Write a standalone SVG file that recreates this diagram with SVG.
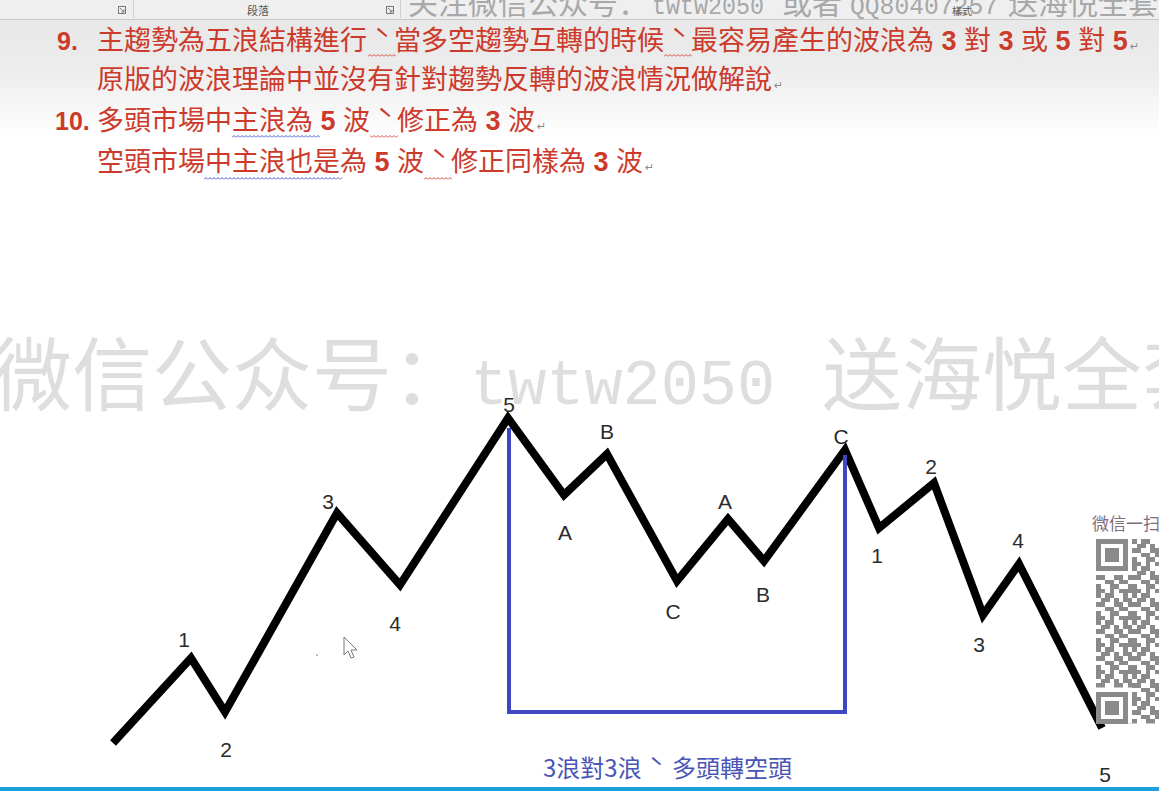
<svg xmlns="http://www.w3.org/2000/svg" width="1159" height="791" viewBox="0 0 1159 791">
<defs>
<style>
.red{font-family:"Liberation Sans","Noto Sans CJK TC",sans-serif;font-size:27px;fill:#cc3a2b}
.num{font-weight:bold}
.idx{font-family:"Liberation Sans",sans-serif;font-size:25px;font-weight:bold;fill:#cc3a2b}
.tone{font-family:"Noto Sans CJK TC",sans-serif}
.pm{font-family:"DejaVu Sans",sans-serif;font-size:11px;fill:#8a8a8a}
.lbl{font-family:"Liberation Sans",sans-serif;font-size:21px;fill:#2b2b2b;text-anchor:middle}
.wm{font-family:"Noto Sans CJK SC",sans-serif;fill:#dedede}
.wmm{font-family:"Liberation Mono",monospace;fill:#dedede}
.rib{font-family:"Noto Sans CJK TC",sans-serif;fill:#555;text-anchor:middle}
.topwm{font-family:"Noto Sans CJK SC",sans-serif;font-size:30px;fill:#a8a8a8}
.topwmm{font-family:"Liberation Mono",monospace;font-size:25px;fill:#a8a8a8}
.wave{fill:none;stroke:#000;stroke-width:8;stroke-linejoin:miter;stroke-miterlimit:4}
.bracket{fill:none;stroke:#3d48c2;stroke-width:4}
.qrc{fill:#8a8a8a}
</style>
<linearGradient id="topfade" x1="0" y1="0" x2="0" y2="1">
<stop offset="0" stop-color="#e8e8e8"/>
<stop offset="0.4" stop-color="#ececec"/>
<stop offset="1" stop-color="#ffffff"/>
</linearGradient>
<pattern id="sqR" width="4" height="3" patternUnits="userSpaceOnUse"><path d="M0 2.5L2 0.5L4 2.5" fill="none" stroke="#d8392a" stroke-width="0.9"/></pattern>
<pattern id="sqB" width="4" height="3" patternUnits="userSpaceOnUse"><path d="M0 2.5L2 0.5L4 2.5" fill="none" stroke="#3b48d0" stroke-width="0.9"/></pattern>
<pattern id="qrp" x="1096" y="539" width="36" height="27" patternUnits="userSpaceOnUse">
<path class="qrc" shape-rendering="crispEdges" d="M0 0h4.5v4.5h-4.5zM9 0h9v4.5h-9zM27 0h4.5v4.5h-4.5zM4.5 4.5h9v4.5h-9zM18 4.5h4.5v4.5h-4.5zM27 4.5h9v4.5h-9zM0 9h9v4.5h-9zM18 9h9v4.5h-9zM31.5 9h4.5v4.5h-4.5zM9 13.5h9v4.5h-9zM22.5 13.5h9v4.5h-9zM0 18h4.5v4.5h-4.5zM13.5 18h9v4.5h-9zM31.5 18h4.5v4.5h-4.5zM0 22.5h9v4.5h-9zM13.5 22.5h4.5v4.5h-4.5zM22.5 22.5h13.5v4.5h-13.5z"/>
</pattern>
</defs>

<rect x="0" y="0" width="1159" height="791" fill="#ffffff"/>
<rect x="0" y="19" width="1159" height="120" fill="url(#topfade)"/>

<!-- ribbon -->
<g id="ribbon">
<rect x="0" y="0" width="1159" height="19" fill="#efefef"/>
<line x1="0" y1="19.5" x2="1159" y2="19.5" stroke="#c9c9c9"/>
<line x1="133.5" y1="0" x2="133.5" y2="18" stroke="#d0d0d0"/>
<line x1="400.5" y1="0" x2="400.5" y2="18" stroke="#d0d0d0"/>
<g fill="none" stroke="#7a7a7a" stroke-width="1">
<rect x="118.5" y="6.5" width="7" height="7"/><path d="M120 8L124 12M124 9.5V12H121.5"/>
<rect x="386.5" y="6.5" width="7" height="7"/><path d="M388 8L392 12M392 9.5V12H389.5"/>
</g>
<text class="rib" x="258" y="15" font-size="11">段落</text>
<text class="topwm" y="14"><tspan x="408">关注微信公众号：</tspan></text>
<text class="topwmm" y="14" x="652" textLength="112" lengthAdjust="spacingAndGlyphs">twtw2050</text>
<text class="topwm" y="14" x="782">或者</text>
<text class="topwmm" y="14" x="850" textLength="148" lengthAdjust="spacingAndGlyphs">QQ80407257</text>
<text class="topwm" y="14" x="1008">送海悦全套</text>
<text class="rib" x="962" y="15" font-size="10">樣式</text>
</g>

<!-- text block -->
<g id="point9">
<text class="idx" x="57" y="50">9.</text>
<text class="red" y="50"><tspan x="97">主趨勢為五浪結構進行</tspan><tspan x="374" class="tone">ˋ</tspan><tspan x="394">當多空趨勢互轉的時候</tspan><tspan x="671" class="tone">ˋ</tspan><tspan x="691">最容易產生的波浪為 <tspan class="num">3</tspan> 對 <tspan class="num">3</tspan> 或 <tspan class="num">5</tspan> 對 <tspan class="num">5</tspan></tspan></text>
<text class="pm" x="1130" y="50">↵</text>
<rect x="368" y="54" width="28" height="3" fill="url(#sqR)"/>
<rect x="664" y="54" width="28" height="3" fill="url(#sqR)"/>
<text class="red" x="97" y="89">原版的波浪理論中並沒有針對趨勢反轉的波浪情況做解說</text>
<text class="pm" x="774" y="89">↵</text>
</g>

<g id="point10">
<text class="idx" x="55" y="130">10.</text>
<text class="red" y="130"><tspan x="97">多頭市場中主浪為 <tspan class="num">5</tspan> 波</tspan><tspan x="377" class="tone">ˋ</tspan><tspan x="397">修正為 <tspan class="num">3</tspan> 波</tspan></text>
<text class="pm" x="537" y="130">↵</text>
<rect x="232" y="135" width="88" height="3" fill="url(#sqB)"/>
<rect x="370" y="135" width="28" height="3" fill="url(#sqR)"/>
<text class="red" y="171"><tspan x="97">空頭市場中主浪也是為 <tspan class="num">5</tspan> 波</tspan><tspan x="431" class="tone">ˋ</tspan><tspan x="451">修正同樣為 <tspan class="num">3</tspan> 波</tspan></text>
<text class="pm" x="645" y="171">↵</text>
<rect x="204" y="177" width="138" height="3" fill="url(#sqB)"/>
<rect x="424" y="177" width="28" height="3" fill="url(#sqR)"/>
</g>

<!-- watermark -->
<g id="watermark">
<text class="wm" x="-8" y="404" font-size="80">微信公众号：</text>
<text class="wmm" x="470" y="404" font-size="64" textLength="305" lengthAdjust="spacingAndGlyphs">twtw2050</text>
<text class="wm" x="822" y="404" font-size="80">送海悦全套</text>
</g>

<!-- connectors -->
<g id="connectors">
<polyline class="wave" points="113,743 191,658 225,712 337,513 400,585 508,418 564,495 607,454 677,581 728,519 764,561 845,450 879,528 934,483 983,615 1019,564 1102,728"/>
<polyline class="bracket" points="509,428 509,712 845,712 845,455"/>
</g>

<!-- wave point labels -->
<g id="up1"><text class="lbl" x="184" y="647">1</text></g>
<g id="up2"><text class="lbl" x="226" y="757">2</text></g>
<g id="up3"><text class="lbl" x="328" y="509">3</text></g>
<g id="up4"><text class="lbl" x="395" y="631">4</text></g>
<g id="up5"><text class="lbl" x="509" y="412">5</text></g>
<g id="a1"><text class="lbl" x="565" y="540">A</text></g>
<g id="b1"><text class="lbl" x="607" y="439">B</text></g>
<g id="c1"><text class="lbl" x="673" y="619">C</text></g>
<g id="a2"><text class="lbl" x="725" y="509">A</text></g>
<g id="b2"><text class="lbl" x="763" y="602">B</text></g>
<g id="c2"><text class="lbl" x="841" y="444">C</text></g>
<g id="dn1"><text class="lbl" x="877" y="563">1</text></g>
<g id="dn2"><text class="lbl" x="931" y="474">2</text></g>
<g id="dn3"><text class="lbl" x="979" y="652">3</text></g>
<g id="dn4"><text class="lbl" x="1018" y="548">4</text></g>
<g id="dn5"><text class="lbl" x="1105" y="782">5</text></g>

<g id="caption">
<text font-family="Noto Sans CJK TC, sans-serif" font-size="24" fill="#4a56b5" y="777"><tspan x="543">3浪對3浪</tspan><tspan x="649">ˋ</tspan><tspan x="672">多頭轉空頭</tspan></text>
</g>

<!-- QR code -->
<g id="qr">
<text font-family="Noto Sans CJK SC, sans-serif" font-size="17" fill="#7d6e7e" x="1092" y="530">微信一扫</text>
<rect x="1096" y="539" width="63" height="184.5" fill="url(#qrp)"/>
<rect x="1096" y="539" width="36" height="36" fill="#fff"/>
<rect x="1096" y="687.5" width="36" height="36" fill="#fff"/>
<g class="qrc" shape-rendering="crispEdges">
<path fill-rule="evenodd" d="M1096 539h31.5v31.5h-31.5zM1100.5 543.5v22.5h22.5v-22.5z"/>
<rect x="1105" y="548" width="13.5" height="13.5"/>
<path fill-rule="evenodd" d="M1096 692h31.5v31.5h-31.5zM1100.5 696.5v22.5h22.5v-22.5z"/>
<rect x="1105" y="701" width="13.5" height="13.5"/>
</g>
</g>

<!-- cursor -->
<g id="cursor">
<polygon points="344,637 344,655 348,651 351,658 354,657 351,650 357,650" fill="#fff" stroke="#777" stroke-width="1"/>
<circle cx="317" cy="655" r="1" fill="#aaa"/>
</g>

<rect x="0" y="787" width="1159" height="4" fill="#1ea0dc"/>
</svg>
